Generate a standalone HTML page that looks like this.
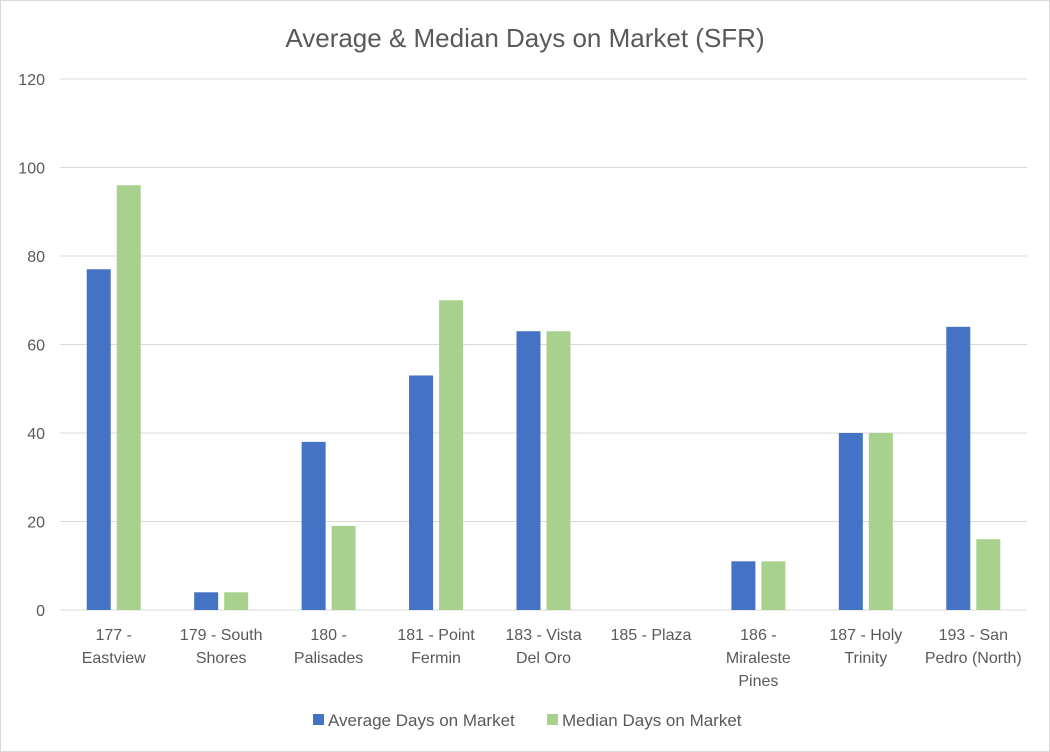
<!DOCTYPE html>
<html><head><meta charset="utf-8"><style>
body{margin:0;background:#fff;}
svg{display:block;font-family:"Liberation Sans",sans-serif;}
</style></head><body>
<svg id="chart" width="1050" height="752" viewBox="0 0 1050 752">
<rect x="0.5" y="0.5" width="1049" height="751" fill="#fff" stroke="#d9d9d9"/>
<text x="525" y="47" text-anchor="middle" font-size="26" fill="#595959">Average &amp; Median Days on Market (SFR)</text>
<g id="grid"></g><g id="bars"></g><g id="xlabels"></g>
<g>
<rect x="313" y="714" width="11" height="11" fill="#4472c4"/>
<text x="328" y="726" font-size="17" fill="#595959">Average Days on Market</text>
<rect x="547" y="714" width="11" height="11" fill="#a9d18e"/>
<text x="562" y="726" font-size="17" fill="#595959">Median Days on Market</text>
</g>
</svg>
<script>
const categories=[["177 -","Eastview"],["179 - South","Shores"],["180 -","Palisades"],["181 - Point","Fermin"],["183 - Vista","Del Oro"],["185 - Plaza"],["186 -","Miraleste","Pines"],["187 - Holy","Trinity"],["193 - San","Pedro (North)"]];
const averageDays=[77,4,38,53,63,0,11,40,64];
const medianDays=[96,4,19,70,63,0,11,40,16];
const yTicks=[0,20,40,60,80,100,120];
const NS="http://www.w3.org/2000/svg";
const x0=60,x1=1027,y0=610,yTop=79,yMax=120;
const band=(x1-x0)/categories.length;
const y=v=>y0-(v/yMax)*(y0-yTop);
const cx=i=>x0+band*(i+0.5);
function mk(t,a,p){const e=document.createElementNS(NS,t);for(const k in a)e.setAttribute(k,a[k]);p.appendChild(e);return e;}
const grid=document.getElementById('grid');
yTicks.forEach(t=>{
 const l=mk('line',{x1:x0,x2:x1,y1:y(t),y2:y(t),stroke:'#d9d9d9','stroke-width':1},grid);
 
 
 const tx=mk('text',{x:45,y:y(t)+6,'text-anchor':'end','font-size':16,fill:'#595959'},grid);
 tx.textContent=t;
 
 
});
const bars=document.getElementById('bars');
const bw=24,gap=6;
categories.forEach((c,i)=>{
 const a=mk('rect',{x:cx(i)-gap/2-bw,y:y(averageDays[i]),width:bw,height:y0-y(averageDays[i]),fill:'#4472c4'},bars);
 
 
 const m=mk('rect',{x:cx(i)+gap/2,y:y(medianDays[i]),width:bw,height:y0-y(medianDays[i]),fill:'#a9d18e'},bars);
 
 
 const t=mk('text',{'text-anchor':'middle','font-size':16,fill:'#595959'},document.getElementById('xlabels'));
 
 
 c.forEach((line,j)=>{const s=mk('tspan',{x:cx(i),y:640+j*23},t);s.textContent=line;});
});
</script>
</body></html>
